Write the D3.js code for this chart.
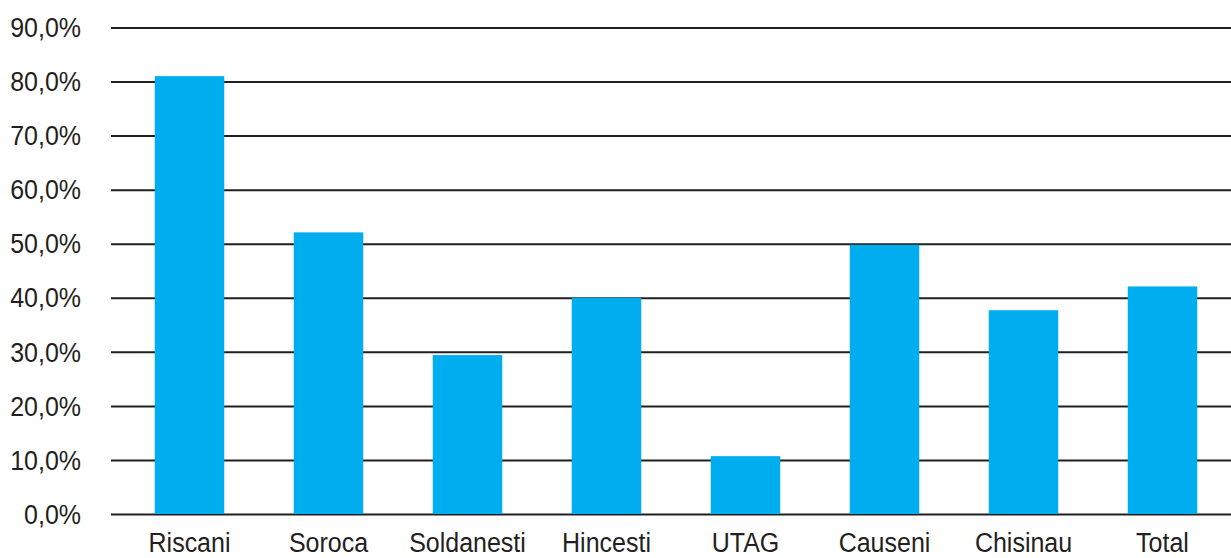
<!DOCTYPE html>
<html>
<head>
<meta charset="utf-8">
<script src="https://cdn.jsdelivr.net/npm/d3@7"></script>
<style>
  html, body { margin: 0; padding: 0; background: #fff; }
  svg { display: block; }
  text { font-family: "Liberation Sans", Arial, sans-serif; fill: #231f20; }
</style>
</head>
<body>
<svg id="chart" width="1231" height="558"></svg>
<script>
const categories = ["Riscani", "Soroca", "Soldanesti", "Hincesti", "UTAG", "Causeni", "Chisinau", "Total"];
const values = [81.0, 52.1, 29.4, 40.0, 10.7, 49.8, 37.7, 42.1];
const yTicks = [0, 10, 20, 30, 40, 50, 60, 70, 80, 90];

const svg = d3.select("#chart");

const x = d3.scaleBand()
  .domain(categories)
  .range([120, 1232])
  .paddingInner(0.5)
  .paddingOuter(0.25);

const y = d3.scaleLinear()
  .domain([0, 90])
  .range([514, 27.5]);

const fmt = v => v.toFixed(1).replace(".", ",") + "%";

// gridlines + y labels
const yAxis = d3.axisLeft(y)
  .tickValues(yTicks)
  .tickSize(-(1231 - 111))
  .tickPadding(30)
  .tickFormat(fmt);

const gy = svg.append("g")
  .attr("transform", "translate(111,0)")
  .call(yAxis);
gy.select(".domain").remove();
gy.selectAll(".tick line")
  .attr("stroke", "#231f20")
  .attr("stroke-width", 2);
gy.selectAll(".tick text")
  .attr("font-size", 25)
  .attr("x", -30)
  .attr("dy", "0.34em")
  .attr("transform", "scale(1,1.08)")
  .attr("y", 0)
  .style("fill", "#231f20");
// compensate vertical scaling so labels stay centered on their line
gy.selectAll(".tick text").attr("transform", "translate(0,0) scale(1,1.08)");

// bars
svg.append("g")
  .selectAll("rect")
  .data(categories.map((c, i) => ({ c, v: values[i] })))
  .join("rect")
  .attr("x", d => x(d.c))
  .attr("width", x.bandwidth())
  .attr("y", d => y(d.v))
  .attr("height", d => y(0) - y(d.v))
  .attr("fill", "#00adef");

// x labels
const xAxis = d3.axisBottom(x).tickSize(0).tickPadding(28);
const gx = svg.append("g")
  .attr("transform", "translate(0,514)")
  .call(xAxis);
gx.select(".domain").remove();
gx.selectAll(".tick text")
  .attr("font-size", 25)
  .attr("dy", 0)
  .attr("y", 0)
  .attr("transform", "translate(0,38) scale(1,1.08)")
  .style("fill", "#231f20");
</script>
</body>
</html>
